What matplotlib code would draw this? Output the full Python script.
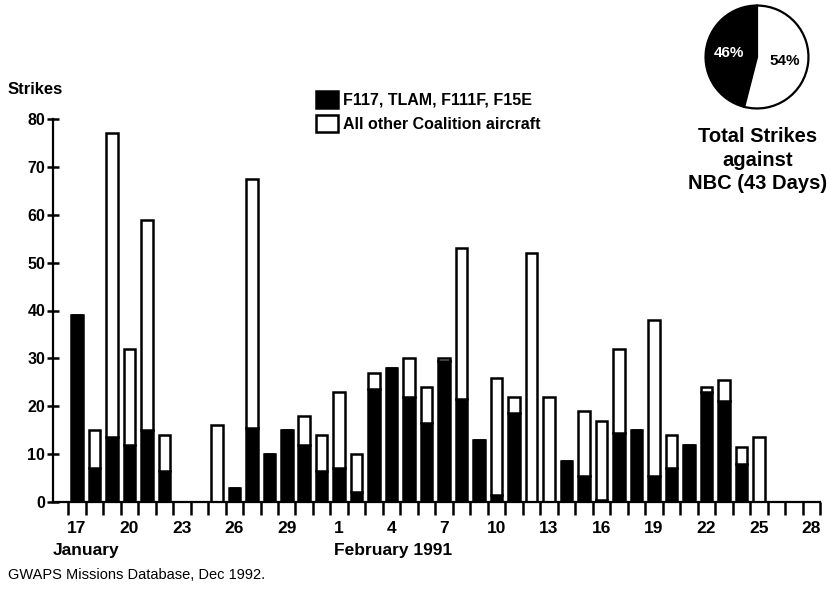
import matplotlib.pyplot as plt
import matplotlib.patches as mpatches
from matplotlib.transforms import blended_transform_factory

plt.rcParams['font.family'] = ['Liberation Sans', 'DejaVu Sans']

# Jan 17 .. Feb 28, 1991 (43 days)
f117_tlam = [39, 7, 13.5, 12, 15, 6.5, 0, 0, 0, 3, 15.5, 10, 15, 12, 6.5,
             7, 2, 23.5, 28, 22, 16.5, 29.5, 21.5, 13, 1.5, 18.5, 0, 0, 8.5,
             5.5, 0.5, 14.5, 15, 5.5, 7, 12, 23, 21, 8, 0, 0, 0, 0]
other_aircraft = [0, 8, 63.5, 20, 44, 7.5, 0, 0, 16, 0, 52, 0, 0, 6, 7.5,
                  16, 8, 3.5, 0, 8, 7.5, 0.5, 31.5, 0, 24.5, 3.5, 52, 22, 0,
                  13.5, 16.5, 17.5, 0, 32.5, 7, 0, 1, 4.5, 3.5, 13.5, 0, 0, 0]
day_labels = ['17', '20', '23', '26', '29', '1', '4', '7', '10', '13',
              '16', '19', '22', '25', '28']
pie_shares = [46, 54]
pie_labels = ['46%', '54%']
legend_labels = ['F117, TLAM, F111F, F15E', 'All other Coalition aircraft']

W, H = 838, 589
fig = plt.figure(figsize=(W / 100, H / 100), dpi=100)
ax = fig.add_axes([53 / W, 1 - 502 / H, (820 - 53) / W, (502 - 119) / H])

x = list(range(len(f117_tlam)))
bw = 0.66
lw = 1.8
ax.bar(x, f117_tlam, width=bw, color='black', edgecolor='black', linewidth=lw)
ax.bar(x, other_aircraft, width=bw, bottom=f117_tlam, color='white',
       edgecolor='black', linewidth=lw)

ax.set_xlim(-1.37, len(x) - 0.5)
ax.set_ylim(0, 80)
for s in ['top', 'right']:
    ax.spines[s].set_visible(False)
for s in ['left', 'bottom']:
    ax.spines[s].set_linewidth(1.6)

ax.set_yticks(range(0, 81, 10))
ax.tick_params(axis='y', direction='inout', length=9, width=1.8, pad=1,
               labelsize=11.5)
for t in ax.get_yticklabels():
    t.set_fontweight('bold')

ax.set_xticks(range(0, len(x), 3))
ax.set_xticklabels(day_labels, fontsize=12.5, fontweight='bold')
ax.set_xticks([i - 0.5 for i in range(len(x) + 1)], minor=True)
ax.tick_params(axis='x', which='major', length=0, pad=14)
ax.tick_params(axis='x', which='minor', direction='out', length=9, width=1.8)

trans = blended_transform_factory(ax.transData, fig.transFigure)
ax.text(-1.37, 1 - 550 / H, 'January', transform=trans, fontsize=12.5,
        fontweight='bold', va='center', ha='left')
ax.text(14.7, 1 - 550 / H, 'February 1991', transform=trans, fontsize=12.5,
        fontweight='bold', va='center', ha='left')

fig.text(8 / W, 1 - 89 / H, 'Strikes', fontsize=12, fontweight='bold',
         va='center', ha='left')
fig.text(8 / W, 1 - 575 / H, 'GWAPS Missions Database, Dec 1992.',
         fontsize=10.5, va='center', ha='left')

handles = [mpatches.Patch(facecolor='black', edgecolor='black', linewidth=1.8),
           mpatches.Patch(facecolor='white', edgecolor='black', linewidth=1.8)]
leg = fig.legend(handles, legend_labels, loc='upper left',
                 bbox_to_anchor=(316 / W, 1 - 91 / H), frameon=False,
                 borderpad=0, borderaxespad=0, handlelength=1.4,
                 handleheight=1.25, handletextpad=0.3, labelspacing=0.45,
                 prop={'weight': 'bold', 'size': 11.5})

# inset pie
pax = fig.add_axes([704 / W, 1 - 110 / H, 106 / W, 106 / H])
wedges, texts, autotexts = pax.pie(pie_shares, colors=['black', 'white'],
                                   startangle=90, counterclock=True,
                                   autopct='%d%%', pctdistance=0.55,
                                   wedgeprops={'edgecolor': 'black',
                                               'linewidth': 1.6})
for t, lab, c in zip(autotexts, pie_labels, ['white', 'black']):
    t.set_text(lab)
    t.set_color(c)
    t.set_fontsize(11)
    t.set_fontweight('bold')
pax.set_xlim(-1.03, 1.03)
pax.set_ylim(-1.03, 1.03)
pax.set_aspect('equal')

fig.text(758 / W, 1 - 160 / H, 'Total Strikes\nagainst\nNBC (43 Days)',
         fontsize=14.5, fontweight='bold', ha='center', va='center',
         linespacing=1.3)

fig.savefig('out.png', dpi=100)
